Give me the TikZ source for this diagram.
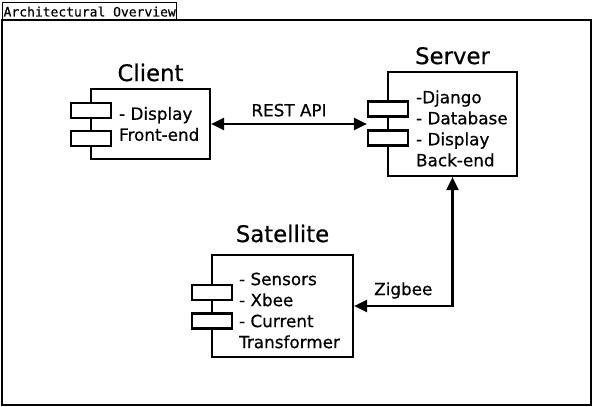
\documentclass[tikz,border=0pt]{standalone}
\usepackage{fontspec}
\setmainfont{DejaVu Sans}[FakeBold=0.6]
\setmonofont{DejaVu Sans Mono}[FakeBold=0.4]
\usepackage{tikz}
\usetikzlibrary{positioning,arrows.meta}

\tikzset{
  comp/.style={draw,line width=2.2pt,fill=white},
  port/.style={draw,line width=2.2pt,fill=white,minimum width=40pt,minimum height=15pt,inner sep=0pt},
  desc/.style={anchor=west,align=left,font=\fontsize{16.8}{21}\selectfont,inner sep=0pt},
  ttl/.style={font=\fontsize{22.8}{26}\selectfont},
  link/.style={line width=2.2pt,{Triangle[length=13pt,width=12pt]}-{Triangle[length=13pt,width=12pt]}},
  lbl/.style={font=\fontsize{16.8}{20}\selectfont}
}

\begin{document}
\begin{tikzpicture}[x=1pt,y=-1pt]
  \useasboundingbox (0,0) rectangle (595,407);
  \draw[line width=2.6pt] (2,20) rectangle (591,405);
  \node (tab) [draw,line width=1.2pt,anchor=north west,minimum width=172pt,minimum height=18pt,inner sep=1pt,font=\ttfamily\fontsize{13}{14}\selectfont] at (2,2) {Architectural Overview};

  \node (client) [comp,minimum width=119pt,minimum height=70pt] at (150.5,124) {};
  \node (clientp1) [port] at (91,110.5) {};
  \node (clientp2) [port] at (91,138.5) {};
  \node (clienttxt) [desc] at ([xshift=29pt]client.west) {- Display\\Front-end};
  \node (clientttl) [ttl,above=3pt of client] {Client};

  \node (server) [comp,minimum width=129pt,minimum height=104pt] at (452.5,124) {};
  \node (serverp1) [port] at (388,109) {};
  \node (serverp2) [port] at (388,138) {};
  \node (servertxt) [desc] at ([xshift=29pt,yshift=-4.5pt]server.west) {-Django\\- Database\\- Display\\Back-end};
  \node (serverttl) [ttl,above=3pt of server] {Server};

  \node (sat) [comp,minimum width=141pt,minimum height=102pt] at (282.5,306) {};
  \node (satp1) [port] at (212,292.5) {};
  \node (satp2) [port] at (212,321) {};
  \node (sattxt) [desc] at ([xshift=28pt,yshift=-4.5pt]sat.west) {- Sensors\\- Xbee\\- Current\\Transformer};
  \node (satttl) [ttl,above=8pt of sat] {Satellite};

  \draw[link] (client.east) -- (client.east -| serverp1.west)
    node[lbl,midway,above=3pt] {REST API};
  \draw[link] (server.south) |- (sat.east)
    node[lbl,pos=0.75,above=3pt] {Zigbee};
\end{tikzpicture}
\end{document}
